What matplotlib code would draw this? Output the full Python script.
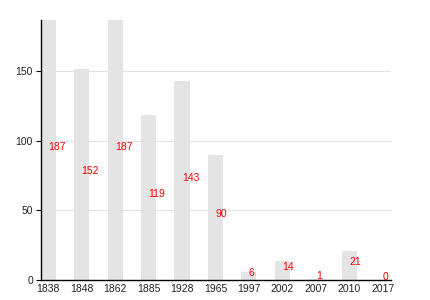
import numpy as np
import matplotlib
matplotlib.use("Agg")
import matplotlib.pyplot as plt

plt.rcParams['font.family'] = ['Liberation Sans', 'DejaVu Sans']

# data
years = ["1838", "1848", "1862", "1885", "1928", "1965", "1997", "2002", "2007", "2010", "2017"]
counts = [187, 152, 187, 119, 143, 90, 6, 14, 1, 21, 0]

fig = plt.figure(figsize=(4.3, 3.0), dpi=100)
ax = fig.add_axes([40.7 / 430, 20 / 300, (390.7 - 40.7) / 430, 260 / 300])

x = np.arange(len(years))
ax.bar(x, counts, width=0.45, color="#e4e4e4", zorder=2)

# value labels, left aligned at bar centre, half height
for xi, c in zip(x, counts):
    ax.text(xi, c / 2, str(c), color="red", fontsize=7.5, ha="left", va="baseline", zorder=3)

ax.set_xticks(x)
ax.set_xticklabels(years)
ax.set_yticks([0, 50, 100, 150])
ax.set_xlim(-0.225, len(years) - 1 + 0.24)
ax.set_ylim(0, max(counts))

ax.grid(axis="y", color="#e2e2e2", linewidth=0.8, zorder=0)
ax.set_axisbelow(True)
for s in ["top", "right"]:
    ax.spines[s].set_visible(False)
ax.spines["left"].set_linewidth(1.0)
ax.spines["bottom"].set_linewidth(1.0)
ax.tick_params(axis="x", length=0, pad=3, labelsize=7.5, colors="#222222")
ax.tick_params(axis="y", length=3.5, width=0.8, pad=2, labelsize=7.5, colors="#222222")
ax.tick_params(axis="both", color="black")

plt.savefig("out.png", dpi=100)
